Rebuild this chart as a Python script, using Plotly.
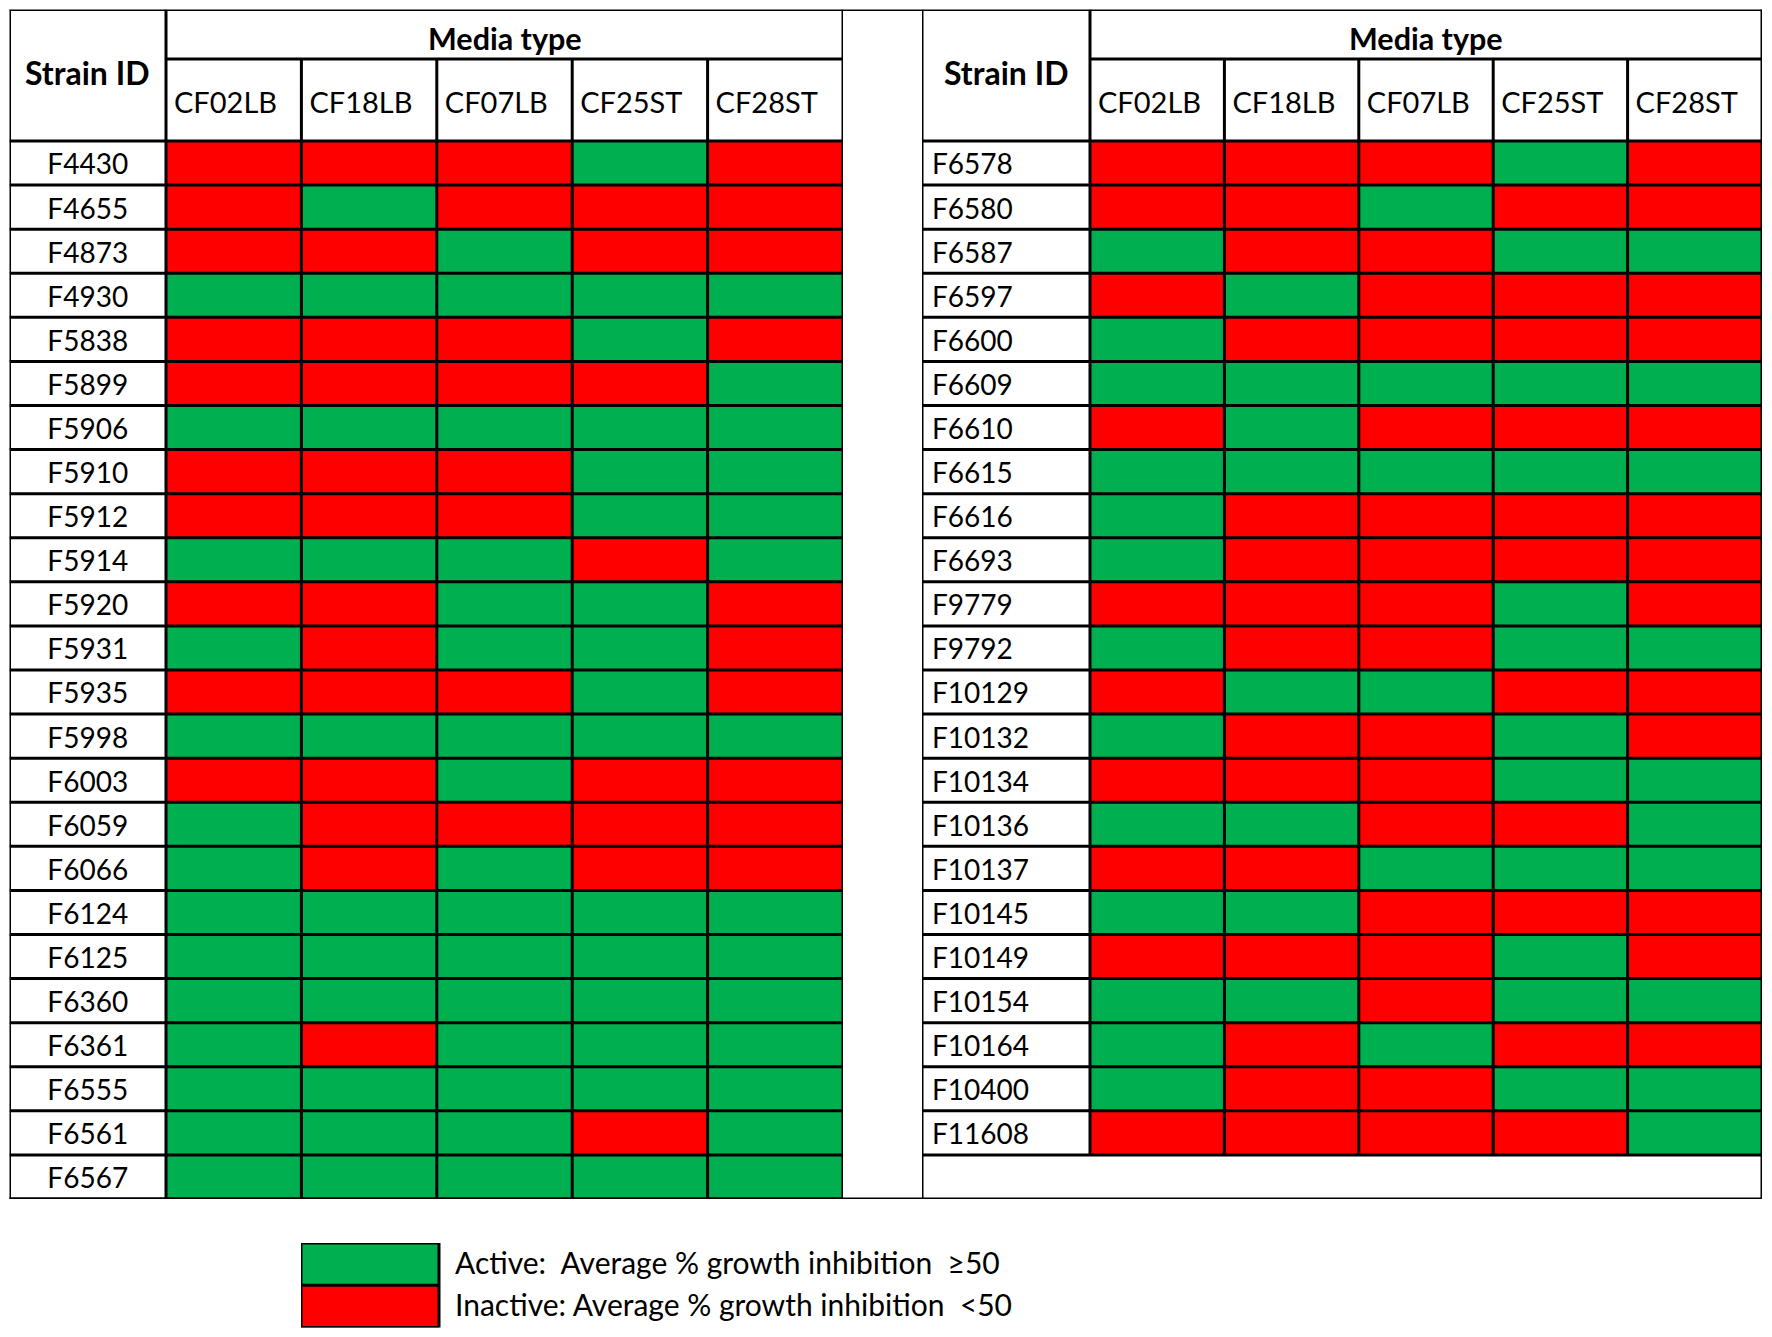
import plotly.graph_objects as go

# media types (columns) and strains (rows); 1 = active, 0 = inactive
MEDIA = ["CF02LB", "CF18LB", "CF07LB", "CF25ST", "CF28ST"]

STRAINS_LEFT = ["F4430", "F4655", "F4873", "F4930", "F5838", "F5899", "F5906", "F5910",
                "F5912", "F5914", "F5920", "F5931", "F5935", "F5998", "F6003", "F6059",
                "F6066", "F6124", "F6125", "F6360", "F6361", "F6555", "F6561", "F6567"]
ACTIVE_LEFT = [
    [0, 0, 0, 1, 0],
    [0, 1, 0, 0, 0],
    [0, 0, 1, 0, 0],
    [1, 1, 1, 1, 1],
    [0, 0, 0, 1, 0],
    [0, 0, 0, 0, 1],
    [1, 1, 1, 1, 1],
    [0, 0, 0, 1, 1],
    [0, 0, 0, 1, 1],
    [1, 1, 1, 0, 1],
    [0, 0, 1, 1, 0],
    [1, 0, 1, 1, 0],
    [0, 0, 0, 1, 0],
    [1, 1, 1, 1, 1],
    [0, 0, 1, 0, 0],
    [1, 0, 0, 0, 0],
    [1, 0, 1, 0, 0],
    [1, 1, 1, 1, 1],
    [1, 1, 1, 1, 1],
    [1, 1, 1, 1, 1],
    [1, 0, 1, 1, 1],
    [1, 1, 1, 1, 1],
    [1, 1, 1, 0, 1],
    [1, 1, 1, 1, 1],
]

STRAINS_RIGHT = ["F6578", "F6580", "F6587", "F6597", "F6600", "F6609", "F6610", "F6615",
                 "F6616", "F6693", "F9779", "F9792", "F10129", "F10132", "F10134", "F10136",
                 "F10137", "F10145", "F10149", "F10154", "F10164", "F10400", "F11608"]
ACTIVE_RIGHT = [
    [0, 0, 0, 1, 0],
    [0, 0, 1, 0, 0],
    [1, 0, 0, 1, 1],
    [0, 1, 0, 0, 0],
    [1, 0, 0, 0, 0],
    [1, 1, 1, 1, 1],
    [0, 1, 0, 0, 0],
    [1, 1, 1, 1, 1],
    [1, 0, 0, 0, 0],
    [1, 0, 0, 0, 0],
    [0, 0, 0, 1, 0],
    [1, 0, 0, 1, 1],
    [0, 1, 1, 0, 0],
    [1, 0, 0, 1, 0],
    [0, 0, 0, 1, 1],
    [1, 1, 0, 0, 1],
    [0, 0, 1, 1, 1],
    [1, 1, 0, 0, 0],
    [0, 0, 0, 1, 0],
    [1, 1, 0, 1, 1],
    [1, 0, 1, 0, 0],
    [1, 0, 0, 1, 1],
    [0, 0, 0, 0, 1],
]

LEGEND_VALUES = [1, 0]
LEGEND_LABELS = ["Active:\u00a0 Average % growth inhibition\u00a0 \u226550",
                 "Inactive: Average % growth inhibition\u00a0 <50"]

GREEN = "#00B050"
RED = "#FF0000"
FONT = "Lato"

# page geometry in pixels (the page body adds an 8px margin on every side)
OFF = 8
FW, FH = 1772 - 2 * OFF, 1337 - 2 * OFF
ROW_PX = 44.08
LEFT_PX, TOP_PX, MEDIA_PX, HEAD_PX, BOTTOM_PX = 9.5, 9.5, 59, 141, 1199
L_LABEL, L_DATA, L_END = LEFT_PX, 166, 843
R_LABEL, R_DATA, R_END = 922, 1090, 1762
N_ROWS = len(STRAINS_LEFT)
ncol = len(MEDIA)

COL_L = (L_END - L_DATA) / ncol
COL_R = (R_END - R_DATA) / ncol
LW_L = (L_DATA - L_LABEL) / COL_L
LW_R = (R_DATA - R_LABEL) / COL_R
HDR = (HEAD_PX - TOP_PX) / ROW_PX
MT = (HEAD_PX - MEDIA_PX) / ROW_PX


def px_x(v):
    return (v - OFF) / FW


def px_y(v):
    return 1 - (v - OFF) / FH


colorscale = [[0, RED], [1, GREEN]]
line = dict(color="black", width=3)
shapes = []


def hline(xref, x0, x1, y, yref="y"):
    shapes.append(dict(type="line", xref=xref, yref=yref, x0=x0, x1=x1, y0=y, y1=y, line=line))


def vline(xref, x, y0, y1, yref="y"):
    shapes.append(dict(type="line", xref=xref, yref=yref, x0=x, x1=x, y0=y0, y1=y1, line=line))


fig = go.Figure()

tables = [
    ("x", STRAINS_LEFT, ACTIVE_LEFT, LW_L, COL_L, "middle center", -LW_L / 2),
    ("x2", STRAINS_RIGHT, ACTIVE_RIGHT, LW_R, COL_R, "middle right", -LW_R + 10 / COL_R),
]

for xa, strains, active, lw, colpx, pos, lx in tables:
    n = len(strains)
    fig.add_trace(go.Heatmap(
        z=active,
        x=[j + 0.5 for j in range(ncol)],
        y=[i + 0.5 for i in range(n)],
        colorscale=colorscale, zmin=0, zmax=1, showscale=False,
        xaxis=xa, yaxis="y", hoverinfo="skip"
    ))
    fig.add_trace(go.Scatter(
        x=[lx] * n, y=[i + 0.6 for i in range(n)], text=strains,
        mode="text", textposition=pos, cliponaxis=False,
        textfont=dict(family=FONT, size=28, color="black"),
        xaxis=xa, yaxis="y", hoverinfo="skip", showlegend=False
    ))
    fig.add_trace(go.Scatter(
        x=[j + 8 / colpx for j in range(ncol)], y=[-MT / 2 + 0.14] * ncol, text=MEDIA,
        mode="text", textposition="middle right", cliponaxis=False,
        textfont=dict(family=FONT, size=29, color="black"),
        xaxis=xa, yaxis="y", hoverinfo="skip", showlegend=False
    ))
    fig.add_annotation(x=-lw / 2, y=-1.55, xref=xa, yref="y", text="<b>Strain ID</b>",
                       showarrow=False, font=dict(family=FONT, size=32, color="black"))
    fig.add_annotation(x=ncol / 2, y=-2.33, xref=xa, yref="y", text="<b>Media type</b>",
                       showarrow=False, font=dict(family=FONT, size=30.5, color="black"))

    # grid lines
    vline(xa, -lw, -HDR, N_ROWS)
    vline(xa, 0, -HDR, n)
    vline(xa, ncol, -HDR, N_ROWS)
    for j in range(1, ncol):
        vline(xa, j, -MT, n)
    hline(xa, 0, ncol, -MT)
    for i in range(n + 1):
        hline(xa, -lw, ncol, i)

# outer frame spanning both tables and the gap between them
hline("paper", px_x(L_LABEL), px_x(R_END), -HDR)
hline("paper", px_x(L_LABEL), px_x(R_END), N_ROWS)

# legend swatches with their labels
LEG_X0, LEG_X1, LEG_BOX = 301, 1200, 138
fig.add_trace(go.Heatmap(
    z=[[v] for v in LEGEND_VALUES], x=[0.5], y=[i + 0.5 for i in range(len(LEGEND_VALUES))],
    colorscale=colorscale, zmin=0, zmax=1, showscale=False,
    xaxis="x3", yaxis="y3", hoverinfo="skip"
))
fig.add_trace(go.Scatter(
    x=[1 + 16 / LEG_BOX] * len(LEGEND_LABELS), y=[i + 0.55 for i in range(len(LEGEND_LABELS))],
    text=LEGEND_LABELS, mode="text", textposition="middle right", cliponaxis=False,
    textfont=dict(family=FONT, size=30, color="black"),
    xaxis="x3", yaxis="y3", hoverinfo="skip", showlegend=False
))
shapes.append(dict(type="rect", xref="x3", yref="y3", x0=0, x1=1, y0=0,
                   y1=len(LEGEND_VALUES), line=line))
hline("x3", 0, 1, 1, yref="y3")

hidden = dict(visible=False, showgrid=False, zeroline=False, fixedrange=True)
fig.update_layout(
    width=FW, height=FH,
    margin=dict(l=0, r=0, t=0, b=0),
    paper_bgcolor="white", plot_bgcolor="white",
    showlegend=False,
    shapes=shapes,
    xaxis=dict(domain=[px_x(L_LABEL), px_x(L_END)], range=[-LW_L, ncol], anchor="y", **hidden),
    xaxis2=dict(domain=[px_x(R_LABEL), px_x(R_END)], range=[-LW_R, ncol], anchor="y", **hidden),
    yaxis=dict(domain=[px_y(BOTTOM_PX), px_y(TOP_PX)], range=[N_ROWS, -HDR], anchor="x", **hidden),
    xaxis3=dict(domain=[px_x(LEG_X0), px_x(LEG_X1)], range=[0, (LEG_X1 - LEG_X0) / LEG_BOX],
                anchor="y3", **hidden),
    yaxis3=dict(domain=[px_y(1327.5), px_y(1243)], range=[2, 0], anchor="x3", **hidden),
)

fig.write_html("out.html")
